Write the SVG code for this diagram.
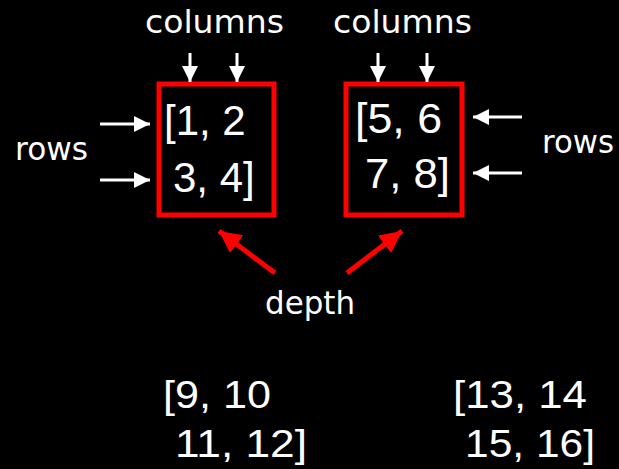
<svg xmlns="http://www.w3.org/2000/svg" width="619" height="469" viewBox="0 0 619 469">
  <style>
    .lbl { font-family: "DejaVu Sans", sans-serif; font-size: 32px; fill: #ffffff; }
    .num { font-family: "Liberation Sans", Arial, sans-serif; font-size: 42px; fill: #ffffff; }
    .num2 { font-family: "Liberation Sans", Arial, sans-serif; font-size: 39px; fill: #ffffff; }
    .box { fill: none; stroke: #ff0000; stroke-width: 5; }
    .wa { stroke: #ffffff; stroke-width: 3; fill: none; marker-end: url(#wh); }
    .ra { stroke: #ff0000; stroke-width: 5; fill: none; marker-end: url(#rh); }
  </style>
  <defs>
    <marker id="wh" markerUnits="userSpaceOnUse" markerWidth="16" markerHeight="16" viewBox="0 0 16 16" refX="16" refY="8" orient="auto">
      <path d="M0,0 L16,8 L0,16 Z" fill="#ffffff"/>
    </marker>
    <marker id="rh" markerUnits="userSpaceOnUse" markerWidth="22" markerHeight="22" viewBox="0 0 22 22" refX="22" refY="11" orient="auto">
      <path d="M0,0 L22,11 L0,22 Z" fill="#ff0000"/>
    </marker>
  </defs>
  <rect x="0" y="0" width="619" height="469" fill="#000000"/>

  <g id="matrix1">
    <rect class="box" x="159" y="84" width="115" height="131"/>
    <text class="num" x="164" y="135">[1, 2</text>
    <text class="num" x="173" y="192">3, 4]</text>
  </g>
  <g id="matrix2">
    <rect class="box" x="346" y="84" width="116" height="131"/>
    <text class="num" x="355" y="133" textLength="87" lengthAdjust="spacingAndGlyphs">[5, 6</text>
    <text class="num" x="365" y="188" textLength="85" lengthAdjust="spacingAndGlyphs">7, 8]</text>
  </g>
  <g id="matrix3">
    <text class="num2" x="163" y="408" textLength="108" lengthAdjust="spacingAndGlyphs">[9, 10</text>
    <text class="num2" x="175" y="457" textLength="132" lengthAdjust="spacingAndGlyphs">11, 12]</text>
  </g>
  <g id="matrix4">
    <text class="num2" x="453" y="408" textLength="134" lengthAdjust="spacingAndGlyphs">[13, 14</text>
    <text class="num2" x="465" y="457" textLength="130" lengthAdjust="spacingAndGlyphs">15, 16]</text>
  </g>

  <g id="labels">
    <text class="lbl" x="145" y="33" textLength="139" lengthAdjust="spacingAndGlyphs">columns</text>
    <text class="lbl" x="333" y="33" textLength="139" lengthAdjust="spacingAndGlyphs">columns</text>
    <text class="lbl" x="15" y="160" textLength="73" lengthAdjust="spacingAndGlyphs">rows</text>
    <text class="lbl" x="542" y="153" textLength="72" lengthAdjust="spacingAndGlyphs">rows</text>
    <text class="lbl" x="265" y="314" textLength="90" lengthAdjust="spacingAndGlyphs">depth</text>
  </g>

  <g id="connectors">
    <line class="wa" x1="190" y1="53" x2="190" y2="82"/>
    <line class="wa" x1="237" y1="53" x2="237" y2="82"/>
    <line class="wa" x1="378" y1="53" x2="378" y2="82"/>
    <line class="wa" x1="427" y1="53" x2="427" y2="82"/>
    <line class="wa" x1="100" y1="124" x2="150" y2="124"/>
    <line class="wa" x1="100" y1="180" x2="150" y2="180"/>
    <line class="wa" x1="522" y1="117" x2="473" y2="117"/>
    <line class="wa" x1="522" y1="173" x2="473" y2="173"/>
    <line class="ra" x1="275" y1="273" x2="219" y2="231"/>
    <line class="ra" x1="347" y1="273" x2="402" y2="231"/>
  </g>
</svg>
